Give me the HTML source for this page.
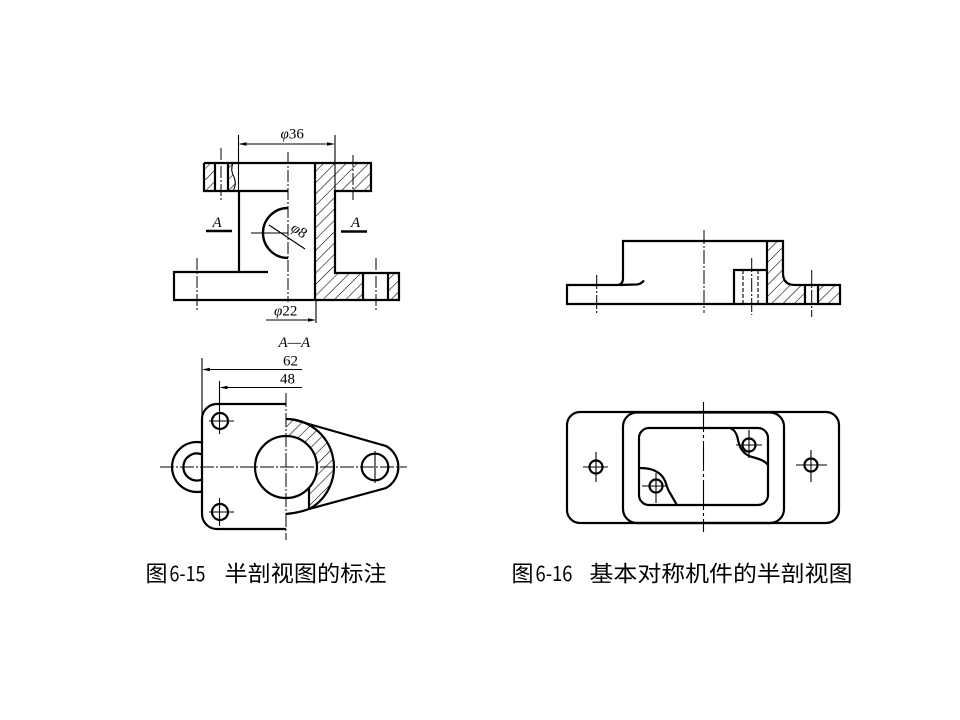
<!DOCTYPE html>
<html><head><meta charset="utf-8"><style>
html,body{margin:0;padding:0;background:#fff;}
svg{display:block;}
</style></head><body>
<svg width="960" height="720" viewBox="0 0 960 720" xmlns="http://www.w3.org/2000/svg">
<defs>
<pattern id="h" patternUnits="userSpaceOnUse" width="8" height="8" patternTransform="rotate(45)">
<line x1="0" y1="-1" x2="0" y2="9" stroke="#000" stroke-width="1.15"/>
</pattern>
</defs>
<rect width="960" height="720" fill="#fff"/>

<!-- ============ TOP LEFT ============ -->
<g>
<path d="M315 163 H371 V191 H335 V273 H363 V300 H315 Z" fill="url(#h)"/>
<rect x="388" y="273" width="11" height="27" fill="url(#h)"/>
<rect x="204" y="163" width="11" height="28" fill="url(#h)"/>
<path d="M228 163 L233 163 Q230 170 234 177 Q237 184 233 191 L228 191 Z" fill="url(#h)"/>
</g>
<g stroke="#000" fill="none" stroke-width="2.2">
<path d="M204 163 H371 V191 H335 V273 H399 V300 H174 V272 H268"/>
<path d="M204 163 V191 H288"/>
<path d="M239 191 V272"/>
<path d="M315 163 V300"/>
<path d="M215 163 V191 M228 163 V191"/>
<path d="M363 273 V300 M388 273 V300"/>
<path d="M288 208 A25 25 0 0 0 288 258" stroke-width="2.4"/>
<path d="M206 231 H232 M341 231.5 H367" stroke-width="2.6"/>
</g>
<g stroke="#000" fill="none" stroke-width="1.1">
<path d="M233 163 Q230 170 234 177 Q237 184 233 191"/>
<path d="M238.5 135 V191 M335 135 V191"/>
<path d="M240 144 H333"/>
<path d="M316 300 V323 M266 320 H314"/>
<path d="M251 233 H288"/>
<path d="M269 225 L305 249"/>
</g>
<g stroke="#000" fill="none" stroke-width="1" stroke-dasharray="12 2 2 2">
<path d="M288 152 V302"/>
<path d="M221 148 V202"/>
<path d="M353 155 V200"/>
<path d="M197 258 V312"/>
<path d="M376 258 V312"/>
</g>
<g fill="#000">
<path d="M238.5 144 L246.5 142.2 L246.5 145.8 Z"/>
<path d="M335 144 L327 142.2 L327 145.8 Z"/>
<path d="M316 320 L308 318.2 L308 321.8 Z"/>
</g>
<g font-family="Liberation Serif, serif" font-size="15" fill="#000">
<text x="280.5" y="138.5"><tspan font-style="italic">φ</tspan>36</text>
<text x="274" y="315.5"><tspan font-style="italic">φ</tspan>22</text>
<text x="212.5" y="227" font-style="italic">A</text>
<text x="351" y="227" font-style="italic">A</text>
<text x="290" y="230" transform="rotate(34 290 230)" font-size="15"><tspan font-style="italic">φ</tspan>8</text>
</g>

<!-- ============ BOTTOM LEFT ============ -->
<path d="M286 419 A48 48 0 0 1 309 509.1 L309 487.8 A31 31 0 0 0 286 436 Z" fill="url(#h)"/>
<g stroke="#000" fill="none" stroke-width="2.2">
<path d="M286 404 H217 A15 15 0 0 0 202 419 V514 A15 15 0 0 0 217 529 H286"/>
<path d="M202 442.5 A25 25 0 1 0 202 491.5"/>
<path d="M202 454.5 A13.5 13.5 0 1 0 202 479.5"/>
<circle cx="220" cy="421" r="8"/>
<circle cx="220" cy="512" r="8"/>
<circle cx="286" cy="467" r="31"/>
<path d="M286 419 A48 48 0 0 1 309 509.1"/>
<path d="M309 487.8 V509.1"/>
<path d="M293 419.5 L386 446 A24 24 0 0 1 386 488 L309 509 Q298 513 286 514"/>
<circle cx="375" cy="467" r="13.3"/>
</g>
<g stroke="#000" fill="none" stroke-width="1.1">
<path d="M202 358 V419"/>
<path d="M219.5 381 V434 M209 421 H234"/>
<path d="M219.5 498 V526 M209 512 H234"/>
<path d="M204 369.5 H302"/>
<path d="M221 387.5 H302"/>
<path d="M375 451 V483"/>
</g>
<g stroke="#000" fill="none" stroke-width="1" stroke-dasharray="14 2 2 2">
<path d="M160 467 H407"/>
<path d="M286 393 V540"/>
</g>
<g fill="#000">
<path d="M202 369.5 L210 367.7 L210 371.3 Z"/>
<path d="M219.5 387.5 L227.5 385.7 L227.5 389.3 Z"/>
</g>
<g font-family="Liberation Serif, serif" font-size="15" fill="#000">
<text x="278.5" y="347" font-style="italic">A—A</text>
<text x="283" y="365.5">62</text>
<text x="280" y="383.5">48</text>
</g>

<!-- ============ TOP RIGHT ============ -->
<path d="M767 241 H783 V273 Q783 285 795 285 H805 V304 H767 Z" fill="url(#h)"/>
<rect x="818" y="285" width="22" height="19" fill="url(#h)"/>
<g stroke="#000" fill="none" stroke-width="2.2">
<path d="M567 304 V285 H617 Q623 285 623 278 V241 H783 V273 Q783 285 795 285 H840 V304 Z"/>
<path d="M619 285 L637 284.5 Q641 284 644 280.5"/>
<path d="M734 304 V270 H767"/>
<path d="M767 241 V304"/>
<path d="M805 285 V304 M818 285 V304"/>
</g>
<g stroke="#000" fill="none" stroke-width="1.1" stroke-dasharray="4 2">
<path d="M743 270 V304 M758 270 V304"/>
</g>
<g stroke="#000" fill="none" stroke-width="1" stroke-dasharray="14 2 2 2">
<path d="M704 230 V313"/>
<path d="M596.7 275 V314"/>
<path d="M751.7 258 V315"/>
<path d="M811.7 270 V317"/>
</g>

<!-- ============ BOTTOM RIGHT ============ -->
<g stroke="#000" fill="none" stroke-width="2.2">
<rect x="567" y="412" width="272" height="111" rx="13"/>
<rect x="623" y="412.5" width="161" height="110.5" rx="14"/>
<rect x="639" y="428" width="129" height="77" rx="10"/>
<circle cx="596" cy="467" r="6.5"/>
<circle cx="811" cy="465" r="6.5"/>
<circle cx="749" cy="445" r="6.5"/>
<circle cx="656" cy="486" r="6.5"/>
<path d="M730 428 C735 430 737 434 738 440 C740 450 745 455 752 457 C760 459 765 461 768 465"/>
<path d="M639 468 C650 468 655 470 660 474 C667 480 666 488 670 493 C673 498 675 502 677 505"/>
</g>
<g stroke="#000" fill="none" stroke-width="1.1">
<path d="M583 467 H608 M596 452 V482"/>
<path d="M796 465 H827 M811 450 V482"/>
<path d="M736 445 H762 M749 430 V458"/>
<path d="M642 486 H666 M656 473 V503"/>
</g>
<path d="M703.5 402 V532" stroke="#000" stroke-width="1.1" stroke-dasharray="30 3 3 3"/>

<!-- ============ CAPTIONS ============ -->
<g font-family="Noto Sans CJK SC, sans-serif" fill="#000">
<text x="145.5" y="581.5" font-size="22">图</text>
<text x="169.5" y="581" font-size="21" textLength="36" lengthAdjust="spacingAndGlyphs">6-15</text>
<text x="224.5" y="581.5" font-size="22" textLength="162" lengthAdjust="spacingAndGlyphs">半剖视图的标注</text>

<text x="511.5" y="581.5" font-size="22">图</text>
<text x="535.5" y="581" font-size="21" textLength="37" lengthAdjust="spacingAndGlyphs">6-16</text>
<text x="589.5" y="581.5" font-size="22" textLength="263" lengthAdjust="spacingAndGlyphs">基本对称机件的半剖视图</text>
</g>
</svg>
</body></html>
